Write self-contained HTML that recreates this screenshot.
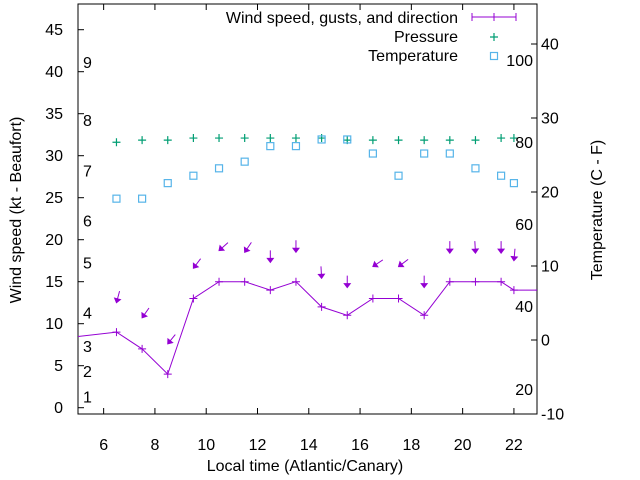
<!DOCTYPE html>
<html><head><meta charset="utf-8"><style>
body{margin:0;background:#fff;}
svg{display:block;font-family:"Liberation Sans",sans-serif;}
</style></head><body>
<svg id="chart" width="640" height="480">
<defs><clipPath id="clip"><rect x="78" y="4" width="459" height="410"/></clipPath></defs>
<g id="grid"></g>
<g id="marks" clip-path="url(#clip)"></g>
<g id="labels"></g>
</svg>
<script>
const hours = [6.5,7.5,8.5,9.5,10.5,11.5,12.5,13.5,14.5,15.5,16.5,17.5,18.5,19.5,20.5,21.5,22];
const windLineX = [4.5,6.5,7.5,8.5,9.5,10.5,11.5,12.5,13.5,14.5,15.5,16.5,17.5,18.5,19.5,20.5,21.5,22,23];
const windLineY = [8.3,9,7,4,13,15,15,14,15,12,11,13,13,11,15,15,15,14,14];
const gusts = [12.5,10.7,7.6,16.6,18.7,18.5,17.3,18.5,15.4,14.3,16.8,16.8,14.3,18.4,18.4,18.4,17.5];
const dirs = [15,35,39,37,48,34,0,0,357,0,56,53,0,0,357,0,5];
const pressure = [31.6,31.85,31.85,32.1,32.1,32.1,32.1,32.1,32.1,31.85,31.85,31.85,31.85,31.85,31.85,32.1,32.1];
const temps = [19.1,19.1,21.2,22.2,23.2,24.1,26.2,26.2,27.1,27.1,25.2,22.2,25.2,25.2,23.2,22.2,21.2];
const xTicks = [6,8,10,12,14,16,18,20,22];
const yTicks = [0,5,10,15,20,25,30,35,40,45];
const y2Ticks = [-10,0,10,20,30,40];
const beaufortLabels = ["1","2","3","4","5","6","7","8","9"];
const beaufortAt = [1.3,4.3,7.3,11.3,17.2,22.2,28.2,34.2,41.1];
const fLabels = ["20","40","60","80","100"];
const fAt = [-6.7,4.5,15.6,26.7,37.8];

const L=78,R=537,T=4,B=414;
const FS=16;
const X=v=>L+(v-5)/(22.9-5)*(R-L);
const Y=v=>407.7-v*8.4;
const Y2=v=>340-v*7.4;
const NS="http://www.w3.org/2000/svg";
function mk(parent,tag,attrs,text){const e=document.createElementNS(NS,tag);for(const k in attrs)e.setAttribute(k,attrs[k]);if(text!==undefined)e.textContent=text;document.getElementById(parent).appendChild(e);return e;}

let f=mk('grid','rect',{x:L,y:T,width:R-L,height:B-T,fill:'none',stroke:'#000','stroke-width':1});


xTicks.forEach(v=>{
  let t=mk('grid','path',{d:`M${X(v)},${B}v-6M${X(v)},${T}v6`,stroke:'#000'});
  
  
  let l=mk('labels','text',{x:X(v),y:450,'text-anchor':'middle','font-size':FS},v);
  
  
});
yTicks.forEach(v=>{
  let t=mk('grid','path',{d:`M${L},${Y(v)}h6`,stroke:'#000'});
  
  
  let l=mk('labels','text',{x:63,y:Y(v)+5.5,'text-anchor':'end','font-size':FS},v);
  
  
});
y2Ticks.forEach(v=>{
  let t=mk('grid','path',{d:`M${R},${Y2(v)}h-6`,stroke:'#000'});
  
  
  let l=mk('labels','text',{x:541,y:Y2(v)+5.5,'font-size':FS},v);
  
  
});
beaufortLabels.forEach((s,i)=>{
  let l=mk('labels','text',{x:83,y:Y(beaufortAt[i])+5.5,'font-size':FS},s);
  
  
});
fLabels.forEach((s,i)=>{
  let l=mk('labels','text',{x:533,y:Y2(fAt[i])+5.5,'font-size':FS,'text-anchor':'end'},s);
  
  
});

let d=windLineX.map((v,i)=>(i?'L':'M')+X(v)+','+Y(windLineY[i])).join('');
let wl=mk('marks','path',{d:d,fill:'none',stroke:'#9400d3','stroke-width':1});


windLineX.forEach((v,i)=>{
  let p=mk('marks','path',{d:`M${X(v)-4},${Y(windLineY[i])}h8M${X(v)},${Y(windLineY[i])-4}v8`,stroke:'#9400d3'});
  
  
});
hours.forEach((h,i)=>{
  const a=dirs[i]*Math.PI/180, len=12;
  const hx=X(h), hy=Y(gusts[i]);
  const tx=hx+len*Math.sin(a), ty=hy-len*Math.cos(a);
  const ux=(hx-tx)/len, uy=(hy-ty)/len;
  const bx=hx-ux*4, by=hy-uy*4;
  const px=-uy*3, py=ux*3;
  let g=mk('marks','path',{d:`M${tx},${ty}L${hx},${hy}M${hx},${hy}L${bx+px},${by+py}L${bx-px},${by-py}Z`,stroke:'#9400d3',fill:'#9400d3','stroke-width':1});
  
  
});
hours.forEach((h,i)=>{
  let p=mk('marks','path',{d:`M${X(h)-4},${Y(pressure[i])}h8M${X(h)},${Y(pressure[i])-4}v8`,stroke:'#009e73','stroke-width':1.2});
  
  
});
hours.forEach((h,i)=>{
  let p=mk('marks','rect',{x:X(h)-3.5,y:Y2(temps[i])-3.5,width:7,height:7,fill:'none',stroke:'#56b4e9','stroke-width':1.2});
  
  
});
</script>
<script>
const svg=document.getElementById('chart');
function add(tag,attrs,text){const e=document.createElementNS("http://www.w3.org/2000/svg",tag);for(const k in attrs)e.setAttribute(k,attrs[k]);if(text)e.textContent=text;svg.appendChild(e);return e;}
let e;
e=add('text',{x:458,y:23,'text-anchor':'end','font-size':16},'Wind speed, gusts, and direction');


e=add('path',{d:'M472,17h44M472,13v8M494,13v8M516,13v8',stroke:'#9400d3',fill:'none'});


e=add('text',{x:458,y:42,'text-anchor':'end','font-size':16},'Pressure');


e=add('path',{d:'M490,37h8M494,33v8',stroke:'#009e73','stroke-width':1.2});


e=add('text',{x:458,y:61,'text-anchor':'end','font-size':16},'Temperature');


e=add('rect',{x:490.5,y:52.5,width:7,height:7,fill:'none',stroke:'#56b4e9','stroke-width':1.2});


e=add('text',{x:305,y:471,'text-anchor':'middle','font-size':16},'Local time (Atlantic/Canary)');


e=add('text',{x:0,y:0,'text-anchor':'middle','font-size':16,transform:'translate(21,210) rotate(-90)'},'Wind speed (kt - Beaufort)');


e=add('text',{x:0,y:0,'text-anchor':'middle','font-size':16,transform:'translate(602,210) rotate(-90)'},'Temperature (C - F)');


</script>
</body></html>
